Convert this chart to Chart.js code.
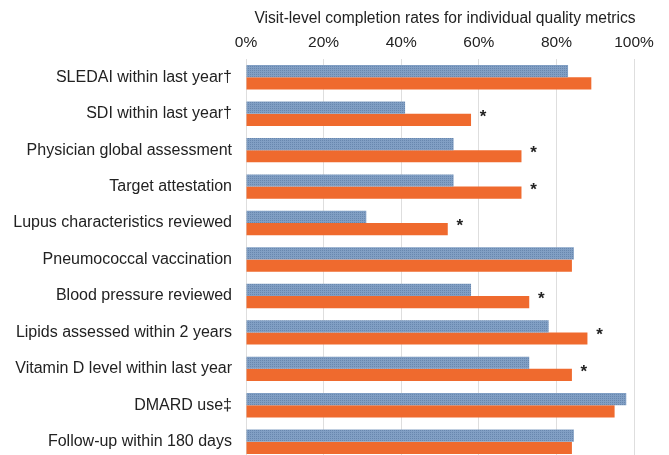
<!DOCTYPE html>
<html>
<head>
<meta charset="utf-8">
<script src="https://cdn.jsdelivr.net/npm/chart.js@4"></script>
<style>
  html, body { margin: 0; background: #fff; overflow: hidden; }
  #chartWrap { width: 669px; height: 460px; }
</style>
</head>
<body>
<div id="chartWrap"><canvas id="qualityChart" width="669" height="460"></canvas></div>
<script>
// Quality metrics, top to bottom
const metrics = [
    'SLEDAI within last year\u2020',
    'SDI within last year\u2020',
    'Physician global assessment',
    'Target attestation',
    'Lupus characteristics reviewed',
    'Pneumococcal vaccination',
    'Blood pressure reviewed',
    'Lipids assessed within 2 years',
    'Vitamin D level within last year',
    'DMARD use\u2021',
    'Follow-up within 180 days'
];

// Completion rates (%) for the two periods
const preRates  = [83, 41, 53.5, 53.5, 31, 84.5, 58, 78, 73, 98, 84.5];
const postRates = [89, 58, 71, 71, 52, 84, 73, 88, 84, 95, 84];

// Metrics with a significant difference get an asterisk
const significant = [false, true, true, true, true, false, true, true, true, false, false];

const tickValues = [0, 20, 40, 60, 80, 100];
const axisTitle = 'Visit-level completion rates for individual quality metrics';

const textColor = '#222';
const fontFamily = '"Liberation Sans", Arial, sans-serif';

const canvas = document.getElementById('qualityChart');
const ctx = canvas.getContext('2d');

// Fine dotted fill for the blue bars
function dottedPattern(base, dot) {
    const tile = document.createElement('canvas');
    tile.width = 2;
    tile.height = 2;
    const t = tile.getContext('2d');
    t.fillStyle = base;
    t.fillRect(0, 0, 2, 2);
    t.fillStyle = dot;
    t.fillRect(0, 0, 1, 1);
    return ctx.createPattern(tile, 'repeat');
}

// Asterisks next to the longer bar, plus the axis title above the ticks
const annotationPlugin = {
    id: 'annotations',
    afterDatasetsDraw(chart) {
        const { ctx, scales: { x, y } } = chart;
        ctx.save();
        ctx.fillStyle = textColor;
        ctx.font = 'bold 17px ' + fontFamily;
        ctx.textAlign = 'center';
        ctx.textBaseline = 'alphabetic';
        significant.forEach((sig, i) => {
            if (!sig) return;
            const px = x.getPixelForValue(Math.max(preRates[i], postRates[i])) + 12;
            ctx.fillText('*', px, y.getPixelForValue(i) + 8);
        });

        ctx.font = '15.6px ' + fontFamily;
        ctx.textBaseline = 'middle';
        ctx.fillText(axisTitle, x.getPixelForValue(50) + 5, 19);
        ctx.restore();
    }
};

const qualityChart = new Chart(ctx, {
    type: 'bar',
    data: {
        labels: metrics,
        datasets: [{
            label: 'Pre',
            data: preRates,
            backgroundColor: dottedPattern('#819fc4', '#6887ae'),
            borderWidth: 0
        }, {
            label: 'Post',
            data: postRates,
            backgroundColor: '#ef6a2e',
            borderWidth: 0
        }]
    },
    options: {
        indexAxis: 'y',
        responsive: false,
        animation: false,
        categoryPercentage: 0.67,
        barPercentage: 1,
        layout: { padding: { top: 0, right: 35, bottom: 0, left: 0 } },
        plugins: {
            legend: { display: false },
            tooltip: { enabled: false }
        },
        scales: {
            x: {
                position: 'top',
                min: 0,
                max: 100,
                afterBuildTicks: scale => {
                    scale.ticks = tickValues.map(v => ({ value: v }));
                },
                afterFit: scale => { scale.height = 59; },
                ticks: {
                    callback: v => v + '%',
                    padding: 7,
                    color: textColor,
                    font: { family: fontFamily, size: 15.5 }
                },
                grid: { color: '#dedede', drawTicks: false },
                border: { display: false }
            },
            y: {
                afterFit: scale => {
                    scale.width = 246;
                    scale.paddingTop = 0;
                    scale.paddingBottom = 0;
                },
                ticks: {
                    padding: 14,
                    color: textColor,
                    font: { family: fontFamily, size: 16 }
                },
                grid: { display: false, drawTicks: false },
                border: { display: false }
            }
        }
    },
    plugins: [annotationPlugin]
});
</script>
</body>
</html>
